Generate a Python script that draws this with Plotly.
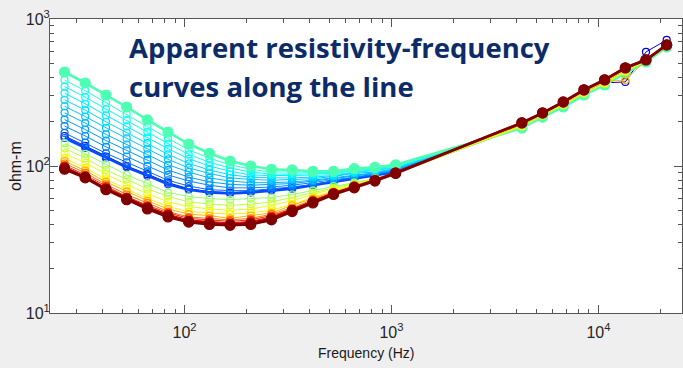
import plotly.graph_objects as go

# Frequencies (Hz) of the sounding points
freq_hz = [26.3, 33.1, 41.7, 52.5, 66.1, 83.2, 104.7, 131.8, 166.0, 208.9, 263.0, 331.1,
           416.9, 524.8, 660.7, 831.8, 1047.1, 4266, 5370, 6761, 8511, 10715, 13490, 16982, 21380]

# Apparent resistivity (ohm-m) per station, ordered along the line
rho_s01 = [160, 137, 116, 100, 88, 77, 70, 67, 66, 67, 69, 71, 75, 79, 83, 87, 92,
           190, 224, 264, 316, 368, 373, 597, 720]
rho_s02 = [155, 133, 113, 98, 86, 75, 69, 66, 65, 66, 68, 70, 74, 78, 82, 86, 91,
           187, 222, 262, 314, 365, 440, 520, 655]
rho_s03 = [168, 144, 122, 106, 92, 80, 73, 69, 68, 68, 70, 72, 75, 79, 83, 87, 92,
           186, 221, 260, 312, 362, 438, 518, 652]
rho_s04 = [187, 160, 135, 116, 100, 87, 79, 74, 71, 71, 72, 74, 77, 80, 84, 88, 93,
           185, 220, 259, 310, 361, 436, 516, 650]
rho_s05 = [207, 177, 149, 128, 110, 94, 84, 78, 75, 74, 75, 76, 79, 82, 86, 89, 94,
           184, 219, 258, 309, 360, 435, 515, 650]
rho_s06 = [230, 196, 164, 140, 120, 102, 91, 83, 79, 77, 77, 78, 80, 83, 87, 90, 95,
           184, 218, 257, 308, 359, 434, 514, 648]
rho_s07 = [255, 217, 182, 154, 131, 111, 97, 89, 83, 81, 80, 81, 82, 85, 89, 91, 96,
           183, 218, 256, 307, 358, 433, 513, 648]
rho_s08 = [282, 240, 200, 169, 143, 120, 104, 94, 87, 84, 83, 83, 84, 86, 90, 93, 97,
           183, 217, 255, 306, 358, 432, 512, 647]
rho_s09 = [313, 265, 221, 186, 156, 131, 112, 100, 92, 87, 86, 86, 86, 87, 91, 94, 98,
           182, 216, 254, 305, 357, 431, 511, 646]
rho_s10 = [347, 294, 244, 205, 170, 142, 120, 106, 97, 91, 88, 88, 88, 89, 93, 95, 100,
           182, 216, 253, 305, 357, 430, 511, 646]
rho_s11 = [385, 325, 270, 225, 185, 154, 129, 113, 102, 95, 91, 91, 90, 90, 94, 96, 101,
           181, 215, 253, 304, 356, 429, 510, 645]
rho_s12 = [436, 367, 304, 252, 206, 170, 141, 122, 108, 100, 95, 94, 92, 92, 96, 98, 102,
           181, 215, 252, 304, 356, 429, 510, 645]
rho_s13 = [143, 121, 102, 87, 76, 66, 62, 60, 59, 60, 61, 64, 68, 73, 77, 82, 89,
           184, 218, 257, 309, 360, 436, 516, 650]
rho_s14 = [132, 113, 94, 81, 70, 62, 57, 55, 54, 55, 57, 61, 66, 71, 76, 82, 89,
           186, 220, 259, 311, 362, 438, 517, 651]
rho_s15 = [122, 105, 88, 75, 65, 57, 53, 51, 50, 51, 54, 58, 64, 70, 75, 81, 89,
           188, 222, 262, 314, 366, 442, 519, 653]
rho_s16 = [113, 97, 81, 70, 60, 53, 49, 48, 47, 48, 50, 55, 61, 68, 74, 81, 90,
           190, 224, 265, 318, 372, 448, 521, 656]
rho_s17 = [108, 93, 78, 67, 58, 51, 47, 46, 44, 46, 48, 54, 60, 67, 73, 81, 90,
           192, 226, 267, 321, 375, 385, 523, 658]
rho_s18 = [104, 90, 75, 64, 56, 49, 45, 44, 43, 44, 47, 52, 59, 66, 73, 80, 90,
           194, 227, 269, 324, 380, 456, 524, 660]
rho_s19 = [101, 87, 73, 62, 54, 48, 44, 43, 42, 43, 46, 51, 58, 66, 72, 80, 90,
           195, 228, 270, 326, 382, 460, 525, 662]
rho_s20 = [99, 85, 71, 61, 53, 47, 43, 42, 41, 42, 45, 51, 57, 65, 72, 80, 90,
           196, 229, 271, 328, 384, 462, 526, 664]
rho_s21 = [97, 84, 70, 60, 52, 46, 42, 41, 40, 41, 44, 50, 57, 65, 72, 80, 90,
           196, 229, 272, 329, 385, 464, 526, 665]
rho_s22 = [95, 83, 69, 59, 51, 45, 41.5, 40, 39.5, 40, 43, 49, 56, 64, 71, 79, 89,
           197, 230, 273, 330, 386, 466, 528, 668]

# colormap position of each station (jet)
station_cmap = [0.10, 0.20, 0.23, 0.26, 0.28, 0.30, 0.32, 0.34, 0.36, 0.38, 0.41, 0.45,
                0.52, 0.56, 0.60, 0.64, 0.70, 0.76, 0.84, 0.90, 0.96, 1.00]
stations = [rho_s01, rho_s02, rho_s03, rho_s04, rho_s05, rho_s06, rho_s07, rho_s08,
            rho_s09, rho_s10, rho_s11, rho_s12, rho_s13, rho_s14, rho_s15, rho_s16,
            rho_s17, rho_s18, rho_s19, rho_s20, rho_s21, rho_s22]


def jet(t):
    def c(v):
        return int(round(255 * min(max(v, 0.0), 1.0)))
    r = 1.5 - abs(4 * t - 3)
    g = 1.5 - abs(4 * t - 2)
    b = 1.5 - abs(4 * t - 1)
    return f"rgb({c(r)},{c(g)},{c(b)})"


fig = go.Figure()
n = len(stations)
for i, (t, rho) in enumerate(zip(station_cmap, stations)):
    col = jet(t)
    bold = i in (1, n - 1, n - 2, 11)
    filled = i in (n - 1, n - 2, 11)
    fig.add_trace(go.Scatter(
        x=freq_hz, y=rho, mode="lines+markers",
        line=dict(color=col, width=2.6 if bold else 1.0),
        marker=dict(symbol="circle" if filled else "circle-open",
                    size=10 if filled else 7, color=col,
                    line=dict(width=1.2, color=col)),
        showlegend=False, hoverinfo="skip"))

tick_font = dict(family="Liberation Sans, Arial, sans-serif", size=16, color="#262626")
axis_col = "#555555"


def minor_vals(lo, hi):
    out = []
    for d in range(lo, hi):
        for m in range(2, 10):
            out.append(m * 10 ** d)
    return out


fig.update_xaxes(
    type="log", range=[1.3496, 4.404],
    showline=True, linecolor=axis_col, linewidth=1, mirror="ticks",
    ticks="inside", ticklen=8, tickwidth=1, tickcolor=axis_col,
    tickvals=[100, 1000, 10000],
    ticktext=["10<sup>2</sup>", "10<sup>3</sup>", "10<sup>4</sup>"],
    tickfont=tick_font, showgrid=False, zeroline=False, ticklabelstandoff=5,
    minor=dict(ticks="inside", ticklen=4, tickwidth=1, tickcolor=axis_col,
               tickvals=minor_vals(1, 5), showgrid=False),
)
fig.update_yaxes(
    type="log", range=[1, 3],
    showline=True, linecolor=axis_col, linewidth=1, mirror="ticks",
    ticks="inside", ticklen=8, tickwidth=1, tickcolor=axis_col,
    tickvals=[10, 100, 1000],
    ticktext=["10<sup>1</sup>", "10<sup>2</sup>", "10<sup>3</sup>"],
    tickfont=tick_font, showgrid=False, zeroline=False, ticklabelstandoff=-4,
    minor=dict(ticks="inside", ticklen=4, tickwidth=1, tickcolor=axis_col,
               tickvals=minor_vals(1, 3), showgrid=False),
)

W, H = 683, 368
ml, mr, mt, mb = 50, 1, 19, 55
pw, ph = W - ml - mr, H - mt - mb

title_font = dict(family="Open Sans, Noto Sans, sans-serif", size=27.5, color="#0c2c69")
fig.add_annotation(text="<b>Apparent resistivity-frequency</b>", xref="paper", yref="paper",
                   x=(127 - ml) / pw, y=(mt + ph - 47) / ph, xanchor="left", yanchor="middle",
                   showarrow=False, font=title_font)
fig.add_annotation(text="<b>curves along the line</b>", xref="paper", yref="paper",
                   x=(127 - ml) / pw, y=(mt + ph - 86) / ph, xanchor="left", yanchor="middle",
                   showarrow=False, font=title_font)

label_font = dict(family="Liberation Sans, Arial, sans-serif", size=14, color="#1a1a1a")
fig.add_annotation(text="Frequency (Hz)", xref="paper", yref="paper",
                   x=0.5, y=(mt + ph - 353) / ph, xanchor="center", yanchor="middle",
                   showarrow=False, font=label_font)
fig.add_annotation(text="ohm-m", xref="paper", yref="paper", textangle=-90,
                   x=(15 - ml) / pw, y=0.5, xanchor="center", yanchor="middle",
                   showarrow=False, font=dict(label_font, size=16))

fig.update_layout(
    width=W, height=H,
    margin=dict(l=ml, r=mr, t=mt, b=mb),
    paper_bgcolor="#efefef", plot_bgcolor="white",
)

fig.write_html("out.html")
